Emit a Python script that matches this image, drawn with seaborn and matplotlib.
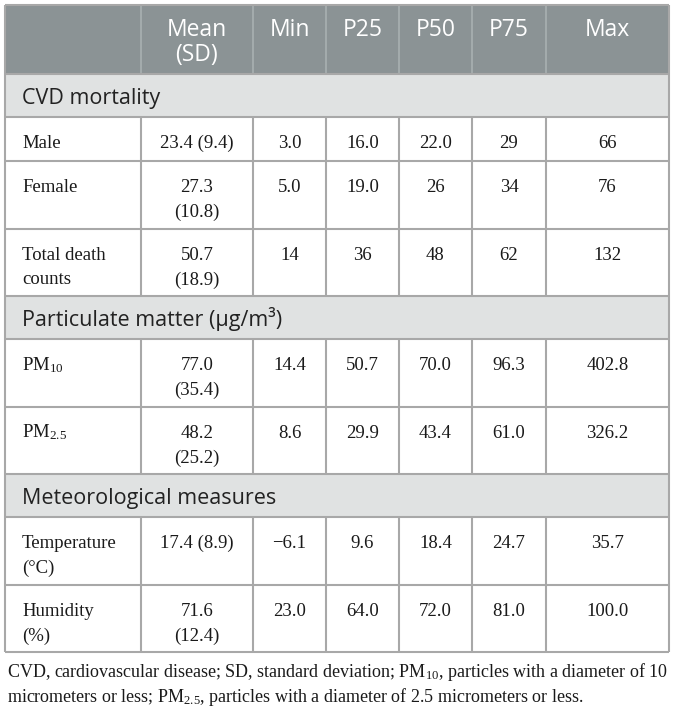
import matplotlib
matplotlib.use("Agg")
import matplotlib.pyplot as plt
from matplotlib.patches import Rectangle
import seaborn as sns

# ---- table content ----
columns = ["Mean\n(SD)", "Min", "P25", "P50", "P75", "Max"]
groups = ["CVD mortality", "Particulate matter (\u03bcg/m\u00b3)", "Meteorological measures"]
group_sizes = [3, 2, 2]
row_labels = ["Male", "Female", "Total death\ncounts", "PM$_{10}$", "PM$_{2.5}$",
              "Temperature\n(\u00b0C)", "Humidity\n(%)"]
mean_sd = ["23.4 (9.4)", "27.3\n(10.8)", "50.7\n(18.9)", "77.0\n(35.4)",
           "48.2\n(25.2)", "17.4 (8.9)", "71.6\n(12.4)"]
min_vals = ["3.0", "5.0", "14", "14.4", "8.6", "\u22126.1", "23.0"]
p25_vals = ["16.0", "19.0", "36", "50.7", "29.9", "9.6", "64.0"]
p50_vals = ["22.0", "26", "48", "70.0", "43.4", "18.4", "72.0"]
p75_vals = ["29", "34", "62", "96.3", "61.0", "24.7", "81.0"]
max_vals = ["66", "76", "132", "402.8", "326.2", "35.7", "100.0"]
footnote = ["CVD, cardiovascular disease; SD, standard deviation; PM$_{10}$, particles with a diameter of 10",
            "micrometers or less; PM$_{2.5}$, particles with a diameter of 2.5 micrometers or less."]

# ---- layout (pixels) ----
col_edges = [5, 141, 253, 326, 399, 472, 546, 669]
header_h = 69
band_h = 43
row_h1 = 44
row_h2 = 67.5
line_gap = 25
top = 5

HEADER_BG = "#8b9395"
BAND_BG = "#e0e2e2"
GRID = "#a8a8a8"

sns.set_theme(style="white")
plt.rcParams["font.family"] = ["Liberation Serif", "DejaVu Serif"]
plt.rcParams["mathtext.fontset"] = "custom"
plt.rcParams["mathtext.rm"] = "Liberation Serif"
plt.rcParams["mathtext.it"] = "Liberation Serif:italic"
plt.rcParams["mathtext.bf"] = "Liberation Serif:bold"

fig = plt.figure(figsize=(6.75, 7.11), dpi=100)
ax = fig.add_axes([0, 0, 1, 1])
ax.set_xlim(0, 675)
ax.set_ylim(711, 0)
ax.axis("off")

serif = dict(family=["Liberation Serif", "DejaVu Serif"], fontsize=13.5, color="#1a1a1a")
sans = dict(family=["Open Sans", "DejaVu Sans"], fontsize=15.5)

x0, x1 = col_edges[0], col_edges[-1]

# header
ax.add_patch(Rectangle((x0, top), x1 - x0, header_h, fc=HEADER_BG, ec="none"))
for xe in col_edges[1:-1]:
    ax.vlines(xe, top, top + header_h, color="#a9b0b1", lw=1.2)
for j, col in enumerate(columns):
    xc = (col_edges[j + 1] + col_edges[j + 2]) / 2
    for k, line in enumerate(col.split("\n")):
        ax.text(xc, top + 31 + k * line_gap, line, ha="center", va="baseline",
                color="white", family=sans["family"], fontsize=16.5)

y = top + header_h
hlines = [top, y]
row_idx = 0
for g, size in zip(groups, group_sizes):
    ax.add_patch(Rectangle((x0, y), x1 - x0, band_h, fc=BAND_BG, ec="none"))
    ax.text(22, y + 30, g, ha="left", va="baseline", color="#222222", **sans)
    y += band_h
    hlines.append(y)
    for _ in range(size):
        cells = [row_labels[row_idx], mean_sd[row_idx], min_vals[row_idx],
                 p25_vals[row_idx], p50_vals[row_idx], p75_vals[row_idx], max_vals[row_idx]]
        nlines = max(c.count("\n") + 1 for c in cells)
        h = row_h1 if nlines == 1 else row_h2
        for j, c in enumerate(cells):
            for k, line in enumerate(c.split("\n")):
                if j == 0:
                    ax.text(22, y + 31 + k * line_gap, line, ha="left", va="baseline", **serif)
                else:
                    xc = (col_edges[j] + col_edges[j + 1]) / 2
                    ax.text(xc, y + 31 + k * line_gap, line, ha="center", va="baseline", **serif)
        ax.vlines(col_edges[1:-1], y, y + h, color=GRID, lw=1.5)
        y += h
        hlines.append(y)
        row_idx += 1

ax.hlines(hlines, x0, x1, color=GRID, lw=1.5)
ax.vlines([x0, x1], top, y, color=GRID, lw=1.5)

# footnote: shrink the font so the first line spans the table width
renderer = fig.canvas.get_renderer()
probe = ax.text(7, y + 25, footnote[0], ha="left", va="baseline", **serif)
width_px = probe.get_window_extent(renderer).width
probe.remove()
foot_size = serif["fontsize"] * (x1 - 7) / width_px
for k, line in enumerate(footnote):
    ax.text(7, y + 25 + k * 25, line, ha="left", va="baseline",
            family=serif["family"], color=serif["color"], fontsize=foot_size)

fig.savefig("out.png", dpi=100)
